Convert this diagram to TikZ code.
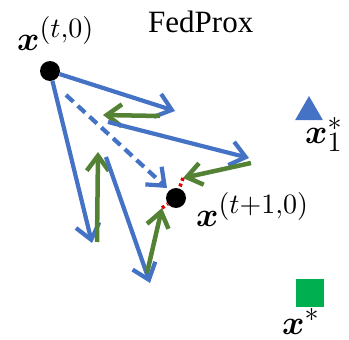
\documentclass[tikz,border=0pt]{standalone}
\usepackage{fontspec}
\usepackage{bm}
\DeclareFontShape{OML}{cmm}{m}{it}{<->cmmi10}{}
\DeclareFontShape{OML}{cmm}{b}{it}{<->cmmib10}{}
\DeclareFontShape{OMS}{cmsy}{m}{n}{<->cmsy10}{}
\DeclareFontShape{OMS}{cmsy}{b}{n}{<->cmbsy10}{}
\DeclareFontShape{OT1}{cmr}{m}{n}{<->cmr10}{}
\DeclareMathSizes{34}{34}{28}{22}
\newfontfamily\titlefont{Liberation Serif}
\usetikzlibrary{arrows.meta,shapes.geometric}
\definecolor{fpblue}{HTML}{4472C4}
\definecolor{fpgreen}{HTML}{548235}
\definecolor{fpsq}{HTML}{00B050}
\definecolor{fpred}{HTML}{E00000}
\tikzset{
  dot/.style={circle,fill=black,inner sep=0pt,minimum size=20pt},
  bluearr/.style={draw=fpblue,line width=4.2pt,-{Straight Barb[length=15pt,width=24pt]}},
  greenarr/.style={draw=fpgreen,line width=4.5pt,-{Straight Barb[length=15pt,width=22pt]}},
  reddot/.style={draw=fpred,line width=3.5pt,dash pattern=on 3pt off 3pt},
  mathlbl/.style={inner sep=0pt,anchor=base west,font=\fontsize{34}{38}\selectfont},
}
\begin{document}
\begin{tikzpicture}[x=1pt,y=-1pt]
\useasboundingbox (0,0) rectangle (349,340);
% title
\node[inner sep=0pt,anchor=base west,font=\titlefont\fontsize{31}{34}\selectfont] (title) at (148,32) {FedProx};
% points
\node[dot] (p0) at (50,71) {};
\node[dot] (p1) at (176,198) {};
\node[mathlbl] (l0) at (17,50) {$\bm{x}^{(t,0)}$};
\node[mathlbl] (l1) at (196,226) {$\bm{x}^{(t+1,0)}$};
% targets
\node[regular polygon,regular polygon sides=3,fill=fpblue,inner sep=0pt,minimum size=32pt] (tri) at (309,112) {};
\node[mathlbl] (lt) at (305,143) {$\bm{x}_1^*$};
\node[rectangle,fill=fpsq,inner sep=0pt,minimum size=28pt] (sq) at (310,293) {};
\node[mathlbl] (ls) at (282,334) {$\bm{x}^*$};
% coordinates
\coordinate (b1) at (175,111);
\coordinate (g1s) at (160,116);
\coordinate (g1e) at (103,115);
\coordinate (b2s) at (108,122);
\coordinate (b2e) at (249,158);
\coordinate (g2s) at (251,163);
\coordinate (g2e) at (183,178);
\coordinate (b3e) at (92,243);
\coordinate (g3s) at (97,242);
\coordinate (g3e) at (98,152);
\coordinate (b4s) at (106,157);
\coordinate (b4e) at (150,283);
\coordinate (g4s) at (147,273);
\coordinate (g4e) at (162,208);
\coordinate (ds) at (66,95);
\coordinate (de) at (167,188);
% arrows
\draw[bluearr] (p0) -- (b1);
\draw[greenarr] (g1s) -- (g1e);
\draw[bluearr] (b2s) -- (b2e);
\draw[greenarr] (g2s) -- (g2e);
\draw[bluearr] (p0) -- (b3e);
\draw[greenarr] (g3s) -- (g3e);
\draw[bluearr] (b4s) -- (b4e);
\draw[greenarr] (g4s) -- (g4e);
\draw[bluearr,dash pattern=on 10pt off 6pt] (ds) -- (de);
\draw[reddot] (g2e) -- (p1);
\draw[reddot] (g4e) -- (p1);
\end{tikzpicture}
\end{document}
